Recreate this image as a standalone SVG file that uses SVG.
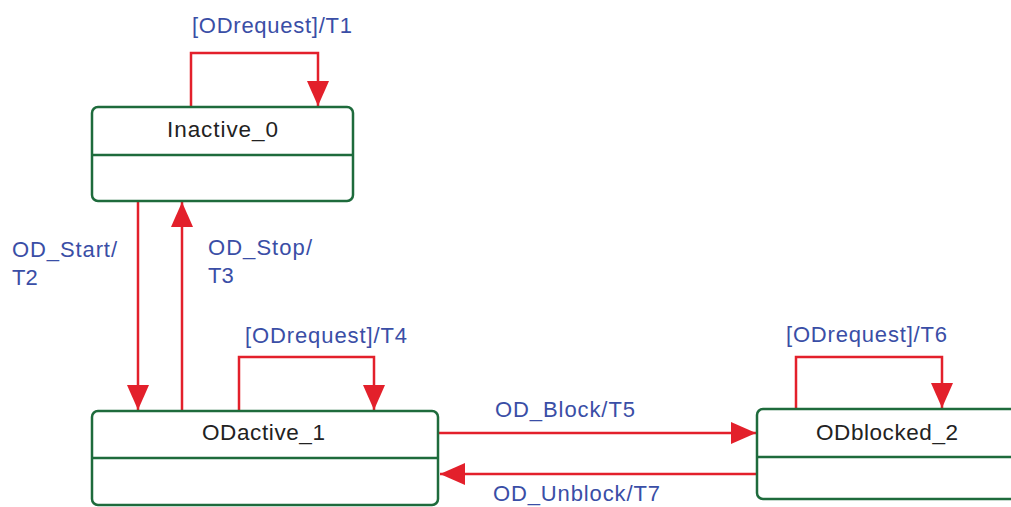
<svg xmlns="http://www.w3.org/2000/svg" width="1011" height="507" viewBox="0 0 1011 507">
<defs>
<style>
.box{fill:#fff;stroke:#1e6b3c;stroke-width:2.5}
.div{stroke:#1e6b3c;stroke-width:2.5}
.name{font-family:"Liberation Sans",Arial,sans-serif;font-size:22.5px;fill:#222}
.lbl{font-family:"Liberation Sans",Arial,sans-serif;font-size:22px;fill:#3a4ea6}
.edge{fill:none;stroke:#e3202b;stroke-width:2.5}
</style>
<marker id="ah" markerUnits="userSpaceOnUse" markerWidth="26" markerHeight="24" refX="25" refY="11" orient="auto">
<path d="M0,0 L25,11 L0,22 Z" fill="#e3202b"/>
</marker>
</defs>
<rect width="1011" height="507" fill="#fff"/>
<g id="connectors">
<path class="edge" d="M191,107 V53 H318 V106" marker-end="url(#ah)"/>
<path class="edge" d="M138,201 V410" marker-end="url(#ah)"/>
<path class="edge" d="M182,411 V202" marker-end="url(#ah)"/>
<path class="edge" d="M239,411 V357 H374 V410" marker-end="url(#ah)"/>
<path class="edge" d="M796,409 V357 H942 V408" marker-end="url(#ah)"/>
<path class="edge" d="M438,433 H756" marker-end="url(#ah)"/>
<path class="edge" d="M757,474 H440" marker-end="url(#ah)"/>
<text class="lbl" x="192" y="33" textLength="160" lengthAdjust="spacing">[ODrequest]/T1</text>
<text class="lbl" x="12" y="257" textLength="105" lengthAdjust="spacing">OD_Start/</text>
<text class="lbl" x="12" y="285">T2</text>
<text class="lbl" x="208" y="255" textLength="104" lengthAdjust="spacing">OD_Stop/</text>
<text class="lbl" x="208" y="283">T3</text>
<text class="lbl" x="245" y="343" textLength="162" lengthAdjust="spacing">[ODrequest]/T4</text>
<text class="lbl" x="786" y="342" textLength="161" lengthAdjust="spacing">[ODrequest]/T6</text>
<text class="lbl" x="495" y="417" textLength="140" lengthAdjust="spacing">OD_Block/T5</text>
<text class="lbl" x="493" y="501" textLength="167" lengthAdjust="spacing">OD_Unblock/T7</text>
</g>
<g id="Inactive_0">
<rect class="box" x="92" y="107" width="261" height="94" rx="6"/>
<line class="div" x1="92" y1="155" x2="353" y2="155"/>
<text class="name" x="167" y="137" textLength="111" lengthAdjust="spacing">Inactive_0</text>
</g>
<g id="ODactive_1">
<rect class="box" x="92" y="411" width="346" height="94" rx="6"/>
<line class="div" x1="92" y1="458" x2="438" y2="458"/>
<text class="name" x="202" y="440" textLength="123" lengthAdjust="spacing">ODactive_1</text>
</g>
<g id="ODblocked_2">
<rect class="box" x="757" y="409" width="270" height="90" rx="6"/>
<line class="div" x1="757" y1="457" x2="1011" y2="457"/>
<text class="name" x="816" y="440" textLength="142" lengthAdjust="spacing">ODblocked_2</text>
</g>
</svg>
